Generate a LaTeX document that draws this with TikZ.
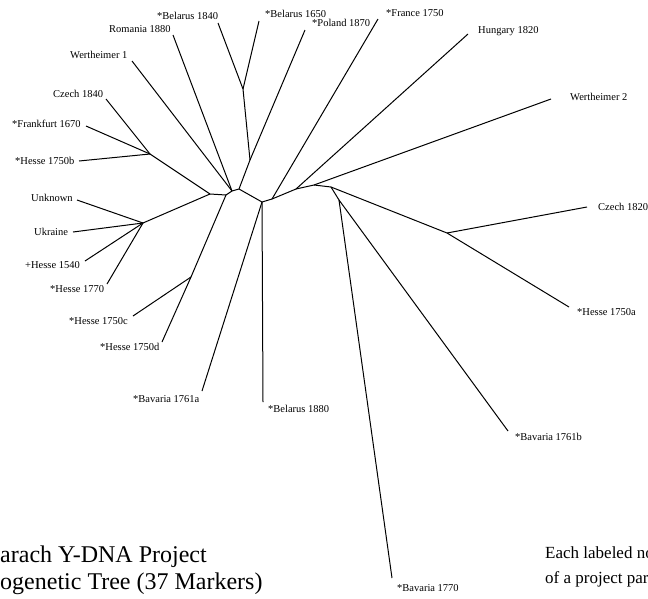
\documentclass[tikz,border=0pt]{standalone}
\usepackage{fontspec}
\setmainfont{Liberation Serif}
\begin{document}
\begin{tikzpicture}[x=1pt,y=-1pt,
  br/.style={line width=1pt, line join=round, black},
  lbl/.style={font=\fontsize{10.5}{12}\selectfont, inner sep=0pt, anchor=base west},
  ttl/.style={font=\fontsize{24}{27}\selectfont, inner sep=0pt, anchor=base west},
  note/.style={font=\fontsize{17}{20}\selectfont, inner sep=0pt, anchor=base west}]
\useasboundingbox[fill=white] (0,0) rectangle (648,598);
% internal nodes
\coordinate (L1) at (210,194);
\coordinate (FH) at (150,154);
\coordinate (UH) at (143,223);
\coordinate (N2) at (226,195);
\coordinate (CH) at (191,277);
\coordinate (N3) at (232,191);
\coordinate (N4) at (239,189);
\coordinate (PB) at (250,160);
\coordinate (BB) at (243,89);
\coordinate (N5) at (262,202);
\coordinate (N6) at (272,199);
\coordinate (N7) at (296,189);
\coordinate (N8) at (314,185);
\coordinate (N9) at (331,187);
\coordinate (BH) at (339,200);
\coordinate (CZ) at (447,233);
% leaf ends
\coordinate (eCz40) at (106,99);
\coordinate (eFr) at (86,126);
\coordinate (eH50b) at (79,161);
\coordinate (eUnk) at (77,200);
\coordinate (eUkr) at (73,232);
\coordinate (eH40) at (85,261);
\coordinate (eH70) at (107,284);
\coordinate (eH50c) at (133,316);
\coordinate (eH50d) at (162,342);
\coordinate (eW1) at (132,61);
\coordinate (eRom) at (173,35);
\coordinate (ePol) at (305,30);
\coordinate (eB40) at (218,23);
\coordinate (eB50) at (259,21);
\coordinate (eBav61a) at (202,391);
\coordinate (eB80) at (263,402);
\coordinate (eFra) at (378,19);
\coordinate (eHun) at (468,34);
\coordinate (eW2) at (551,99);
\coordinate (eCz20) at (587,207);
\coordinate (eH50a) at (569,307);
\coordinate (eBav70) at (392,578);
\coordinate (eBav61b) at (508,431);
% branches
\draw[br] (L1) -- (FH);
\draw[br] (FH) -- (eCz40);
\draw[br] (FH) -- (eFr);
\draw[br] (FH) -- (eH50b);
\draw[br] (L1) -- (UH);
\draw[br] (UH) -- (eUnk);
\draw[br] (UH) -- (eUkr);
\draw[br] (UH) -- (eH40);
\draw[br] (UH) -- (eH70);
\draw[br] (L1) -- (N2);
\draw[br] (N2) -- (CH);
\draw[br] (CH) -- (eH50c);
\draw[br] (CH) -- (eH50d);
\draw[br] (N2) -- (N3);
\draw[br] (N3) -- (eW1);
\draw[br] (N3) -- (eRom);
\draw[br] (N3) -- (N4);
\draw[br] (N4) -- (PB);
\draw[br] (PB) -- (ePol);
\draw[br] (PB) -- (BB);
\draw[br] (BB) -- (eB40);
\draw[br] (BB) -- (eB50);
\draw[br] (N4) -- (N5);
\draw[br] (N5) -- (eBav61a);
\draw[br] (N5) -- (eB80);
\draw[br] (N5) -- (N6);
\draw[br] (N6) -- (eFra);
\draw[br] (N6) -- (N7);
\draw[br] (N7) -- (eHun);
\draw[br] (N7) -- (N8);
\draw[br] (N8) -- (eW2);
\draw[br] (N8) -- (N9);
\draw[br] (N9) -- (CZ);
\draw[br] (CZ) -- (eCz20);
\draw[br] (CZ) -- (eH50a);
\draw[br] (N9) -- (BH);
\draw[br] (BH) -- (eBav70);
\draw[br] (BH) -- (eBav61b);
% labels
\node[lbl] (tB40) at (157,19.5) {*Belarus 1840};
\node[lbl] (tRom) at (109,32.5) {Romania 1880};
\node[lbl] (tW1) at (70,58.5) {Wertheimer 1};
\node[lbl] (tCz40) at (53,97.5) {Czech 1840};
\node[lbl] (tFr) at (12,127.5) {*Frankfurt 1670};
\node[lbl] (tH50b) at (15,164.5) {*Hesse 1750b};
\node[lbl] (tUnk) at (31,201.5) {Unknown};
\node[lbl] (tUkr) at (34,235.5) {Ukraine};
\node[lbl] (tH40) at (25,268.5) {+Hesse 1540};
\node[lbl] (tH70) at (50,292.5) {*Hesse 1770};
\node[lbl] (tH50c) at (69,324.5) {*Hesse 1750c};
\node[lbl] (tH50d) at (100,350.5) {*Hesse 1750d};
\node[lbl] (tBav61a) at (133,402.5) {*Bavaria 1761a};
\node[lbl] (tB80) at (268,412.5) {*Belarus 1880};
\node[lbl] (tB50) at (265,17.5) {*Belarus 1650};
\node[lbl] (tPol) at (312,26.5) {*Poland 1870};
\node[lbl] (tFra) at (386,16.5) {*France 1750};
\node[lbl] (tHun) at (478,33.5) {Hungary 1820};
\node[lbl] (tW2) at (570,100.5) {Wertheimer 2};
\node[lbl] (tCz20) at (598,210.5) {Czech 1820};
\node[lbl] (tH50a) at (577,315.5) {*Hesse 1750a};
\node[lbl] (tBav61b) at (515,440.5) {*Bavaria 1761b};
\node[lbl] (tBav70) at (397,591) {*Bavaria 1770};
% title and note
\node[ttl] (title1) at (0,562) {arach Y-DNA Project};
\node[ttl] (title2) at (0,589) {ogenetic Tree (37 Markers)};
\node[note] (note1) at (545,558.6) {Each labeled no};
\node[note] (note2) at (545,583.6) {of a project par};
\end{tikzpicture}
\end{document}
